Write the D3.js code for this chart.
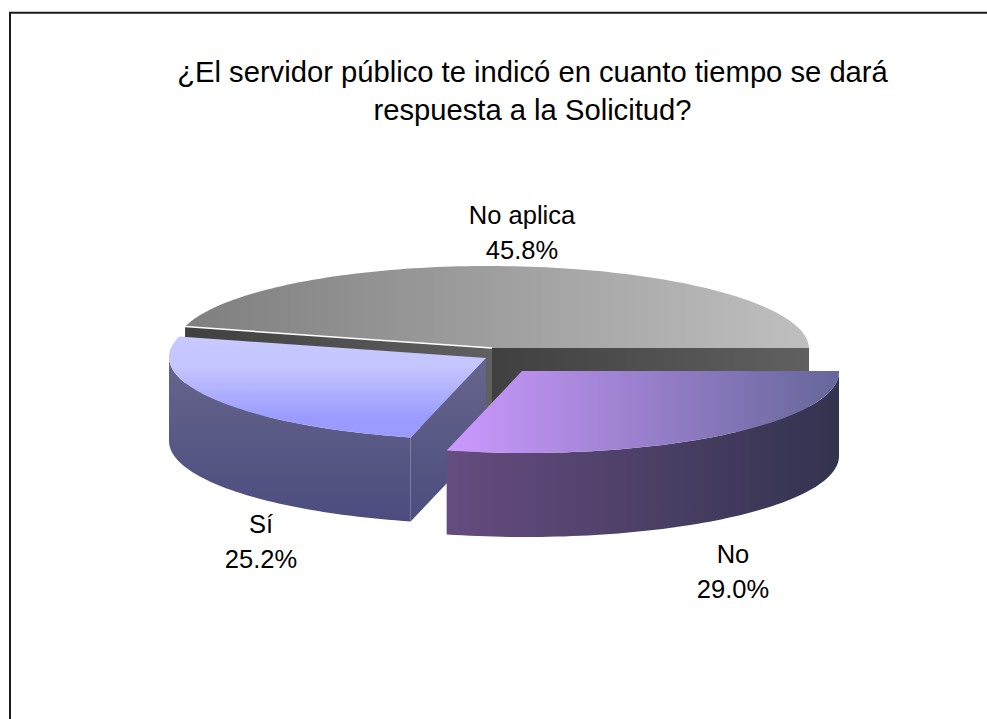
<!DOCTYPE html>
<html>
<head>
<meta charset="utf-8">
<script src="https://cdn.jsdelivr.net/npm/d3@7"></script>
<style>
  html, body { margin: 0; padding: 0; background: #fff; }
  svg { display: block; }
  text { font-family: "Liberation Sans", Arial, sans-serif; fill: #000; }
</style>
</head>
<body>
<svg id="chart" width="987" height="719"></svg>
<script>
const categories = ["No", "Sí", "No aplica"];
const shares = [29.0, 25.2, 45.8];
const titleLines = [
  "¿El servidor público te indicó en cuanto tiempo se dará",
  "respuesta a la Solicitud?"
];

const width = 987, height = 719;
const rx = 317, ry = 82, depth = 84;
const skew = 0.044; // front of the pie leans a bit to the right

const svg = d3.select("#chart");
const defs = svg.append("defs");

function gradient(id, x1, y1, x2, y2, stops) {
  const g = defs.append("linearGradient")
    .attr("id", id)
    .attr("gradientUnits", "userSpaceOnUse")
    .attr("x1", x1).attr("y1", y1)
    .attr("x2", x2).attr("y2", y2);
  stops.forEach(s => g.append("stop").attr("offset", s[0]).attr("stop-color", s[1]));
}

// one look per slice, keyed by category
const looks = new Map([
  ["No", { cx: 522, cy: 371, top: "noTop", wall: "noWall", cut: "noWall" }],
  ["Sí", { cx: 486, cy: 358, top: "siTop", wall: "siWall", cut: "siWall" }],
  ["No aplica", { cx: 492, cy: 348, top: "naTop", wall: "naWall", cut: "naWall" }]
]);

gradient("noTop", 446, 0, 840, 0, [[0, "#cc99ff"], [1, "#666699"]]);
gradient("noWall", 446, 0, 840, 0, [[0, "#664c7f"], [1, "#33334f"]]);
gradient("siTop", 0, 337, 0, 438, [[0, "#c9c9ff"], [0.3, "#c4c4ff"], [0.8, "#9b9bff"], [1, "#9999ff"]]);
gradient("siWall", 0, 355, 0, 522, [[0, "#66668c"], [1, "#4c4c7f"]]);
gradient("naTop", 187, 0, 809, 0, [[0, "#7f7f7f"], [1, "#bfbfbf"]]);
gradient("naWall", 492, 0, 809, 0, [[0, "#404040"], [1, "#606060"]]);
gradient("naCut", 187, 0, 492, 0, [[0, "#404040"], [1, "#606060"]]);

// d3.pie angles run clockwise from 12 o'clock, this pie starts at 3 o'clock
const pie = d3.pie().sort(null).value(d => d.share)
  .startAngle(Math.PI / 2).endAngle(Math.PI / 2 + 2 * Math.PI);
const slices = pie(categories.map((name, i) => ({ name, share: shares[i] })));

const xAt = (look, a) => look.cx + rx * Math.sin(a) - skew * ry * Math.cos(a);
const yAt = (look, a) => look.cy - ry * Math.cos(a);

function arcPoints(look, a0, a1) {
  const n = Math.max(2, Math.ceil(Math.abs(a1 - a0) * 40));
  return d3.range(n + 1).map(i => {
    const a = a0 + (a1 - a0) * i / n;
    return [xAt(look, a), yAt(look, a)];
  });
}

const line = d3.line();

function drawOuterWall(g, look, d) {
  // outer wall only shows on the front half, 3 o'clock to 9 o'clock
  const a0 = Math.max(d.startAngle, Math.PI / 2);
  const a1 = Math.min(d.endAngle, 3 * Math.PI / 2);
  if (a1 <= a0) return;
  const upper = arcPoints(look, a0, a1);
  const lower = upper.map(p => [p[0], p[1] + depth]).reverse();
  g.append("path")
    .attr("d", line(upper.concat(lower)) + "Z")
    .attr("fill", `url(#${look.wall})`);
}

function drawCutWall(g, look, angle, fill) {
  const o = [look.cx, look.cy];
  const e = [xAt(look, angle), yAt(look, angle)];
  g.append("path")
    .attr("d", line([o, e, [e[0], e[1] + depth], [o[0], o[1] + depth]]) + "Z")
    .attr("fill", fill);
}

function drawTop(g, look, d) {
  const pts = [[look.cx, look.cy]].concat(arcPoints(look, d.startAngle, d.endAngle));
  g.append("path")
    .attr("d", line(pts) + "Z")
    .attr("fill", `url(#${look.top})`);
}

// back slice first, the pulled out ones go over it
const order = ["No aplica", "Sí", "No"];
order.forEach(name => {
  const d = slices.find(s => s.data.name === name);
  const look = looks.get(name);
  const g = svg.append("g").attr("class", "slice");
  if (name === "No aplica") {
    drawCutWall(g, look, d.startAngle, "url(#naCut)");
    drawCutWall(g, look, d.endAngle, "url(#naWall)");
    drawTop(g, look, d);
    // thin highlight along the cut
    g.append("line")
      .attr("x1", look.cx).attr("y1", look.cy)
      .attr("x2", xAt(look, d.startAngle)).attr("y2", yAt(look, d.startAngle))
      .attr("stroke", "#fff").attr("stroke-width", 1.5);
  } else {
    if (name === "Sí") drawCutWall(g, look, d.startAngle, `url(#${look.cut})`);
    drawOuterWall(g, look, d);
    drawTop(g, look, d);
  }
});

// frame, open at the right and bottom
svg.append("path")
  .attr("d", line([[10, height], [10, 12.8], [width, 12.8]]))
  .attr("fill", "none").attr("stroke", "#1a1a1a").attr("stroke-width", 2);

svg.append("g").selectAll("text").data(titleLines).join("text")
  .attr("x", 532.5)
  .attr("y", (d, i) => 82 + i * 38)
  .attr("text-anchor", "middle")
  .style("font-size", "29.2px")
  .text(d => d);

// data labels, placed by hand like the original
const labelSpots = new Map([
  ["No aplica", [522, 224]],
  ["Sí", [261, 533]],
  ["No", [733, 563]]
]);
const labels = svg.append("g").selectAll("g").data(slices).join("g")
  .attr("transform", d => `translate(${labelSpots.get(d.data.name)})`)
  .attr("text-anchor", "middle")
  .style("font-size", "25.5px");
labels.append("text").text(d => d.data.name);
labels.append("text").attr("y", 34.5).text(d => d3.format(".1f")(d.data.share) + "%");
</script>
</body>
</html>
